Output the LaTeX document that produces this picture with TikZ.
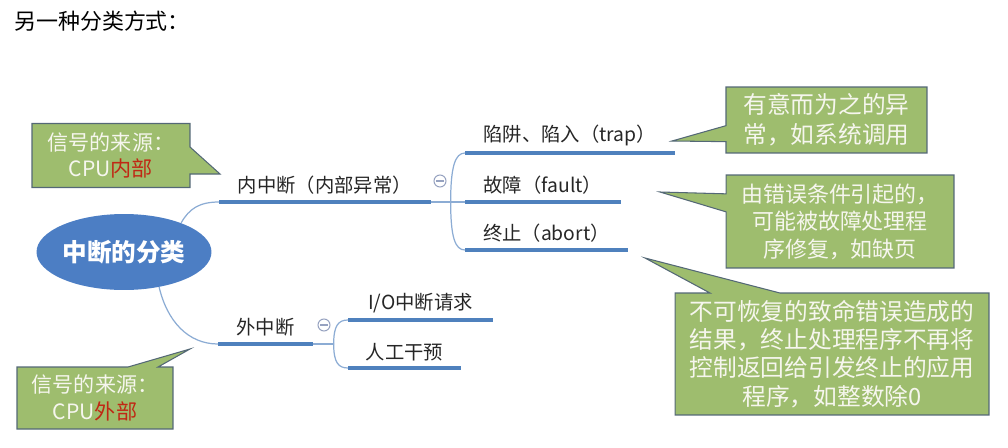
\documentclass[tikz,border=0pt]{standalone}
\usepackage{fontspec}
\setmainfont{Noto Sans CJK SC}
\usetikzlibrary{shapes.geometric, shapes.callouts, calc}
\definecolor{mapblue}{RGB}{79,129,189}
\definecolor{rootblue}{RGB}{76,126,196}
\definecolor{linkblue}{RGB}{140,172,212}
\definecolor{notegreen}{RGB}{158,189,110}
\definecolor{noteline}{RGB}{84,104,118}
\definecolor{notered}{RGB}{192,40,20}
\definecolor{foldgray}{RGB}{150,162,192}
\definecolor{notetext}{RGB}{246,246,238}
\tikzset{
  root/.style={ellipse, fill=rootblue, text=white, font=\fontsize{14}{16}\selectfont\bfseries, minimum width=3.5cm, minimum height=1.52cm, inner sep=0pt},
  topic/.style={anchor=south west, inner xsep=0pt, inner ysep=4pt, font=\fontsize{11}{13}\selectfont, text=black!85},
  uline/.style={draw=mapblue, line width=2.2pt},
  link/.style={draw=linkblue, line width=0.7pt},
  fold/.style={circle, draw=foldgray, line width=0.6pt, minimum size=0.24cm, inner sep=0pt,
    path picture={\draw[foldgray, line width=0.6pt] ([xshift=-2pt]path picture bounding box.center) -- ([xshift=2pt]path picture bounding box.center);}},
  note/.style={rectangle callout, draw=noteline, fill=notegreen, text=notetext, align=center, inner sep=2pt, line width=0.6pt}
}

\begin{document}
\begin{tikzpicture}[x=0.02cm, y=-0.02cm]
  \useasboundingbox (0,0) rectangle (1008,447);

  % Title
  \node[anchor=west, font=\fontsize{12.5}{14}\selectfont] (title) at (8,21) {另一种分类方式：};

  % Root and topics
  \node[root] (root) at (124,252) {中断的分类};

  \node[topic, minimum width=4.22cm] (inner) at (219,202) {内中断（内部异常）};
  \node[topic, minimum width=4.18cm] (trap) at (465,153) {陷阱、陷入（trap）};
  \node[topic, minimum width=3.1cm] (fault) at (465,202) {故障（fault）};
  \node[topic, minimum width=3.24cm] (abort) at (465,250) {终止（abort）};

  \node[topic, minimum width=1.88cm] (outer) at (218,344) {外中断};
  \node[topic, minimum width=2.88cm] (io) at (348,320) {I/O中断请求};
  \node[topic, minimum width=2.24cm] (manual) at (348,368) {人工干预};

  % Branches
  \draw[link] (root.27) .. controls +(8,-14) and +(-20,0) .. (inner.south west);
  \draw[link] (root.-45) .. controls +(8,34) and +(-30,0) .. (outer.south west);

  \coordinate (infork) at ($(inner.south east)+(20,0)$);
  \draw[link] (inner.south east) -- (fault.south west);
  \draw[link] (infork) .. controls +(0,-35) and +(-10,0) .. (trap.south west);
  \draw[link] (infork) .. controls +(0,35) and +(-10,0) .. (abort.south west);

  \coordinate (outfork) at ($(outer.south east)+(21,0)$);
  \draw[link] (outer.south east) -- (outfork);
  \draw[link] (outfork) .. controls +(0,-18) and +(-10,0) .. (io.south west);
  \draw[link] (outfork) .. controls +(0,18) and +(-10,0) .. (manual.south west);

  % Underlines
  \foreach \t in {inner, trap, fault, abort, outer, io, manual}
    \draw[uline] (\t.south west) -- (\t.south east);

  \node[fold] (infold) at (440,181) {};
  \node[fold] (outfold) at (324,325) {};

  % Notes
  \node[note, minimum width=3.16cm, minimum height=1.28cm, font=\fontsize{12}{15.3}\selectfont,
    callout absolute pointer={(220,174)}, callout pointer width=0.54cm] (innote) at (111,155.5)
    {信号的来源：\\CPU\textcolor{notered}{内部}};
  \node[note, minimum width=3.12cm, minimum height=1.24cm, font=\fontsize{12}{15.3}\selectfont,
    callout absolute pointer={(190,349)}, callout pointer width=0.6cm] (outnote) at (95,398)
    {信号的来源：\\CPU\textcolor{notered}{外部}};
  \node[note, minimum width=4.02cm, minimum height=1.32cm, font=\fontsize{13.5}{17}\selectfont,
    callout absolute pointer={(672,141)}, callout pointer width=0.32cm] (trapnote) at (826.5,120)
    {有意而为之的异\\常，如系统调用};
  \node[note, minimum width=4.56cm, minimum height=1.86cm, font=\fontsize{12.5}{15.6}\selectfont,
    callout absolute pointer={(660,192)}, callout pointer width=0.36cm] (faultnote) at (840,221.5)
    {由错误条件引起的，\\可能被故障处理程\\序修复，如缺页};
  \node[note, minimum width=6.28cm, minimum height=2.44cm, font=\fontsize{13.5}{16}\selectfont,
    callout absolute pointer={(645,258)}, callout pointer width=1.4cm] (abortnote) at (832,354)
    {不可恢复的致命错误造成的\\结果，终止处理程序不再将\\控制返回给引发终止的应用\\程序，如整数除0};
\end{tikzpicture}
\end{document}
